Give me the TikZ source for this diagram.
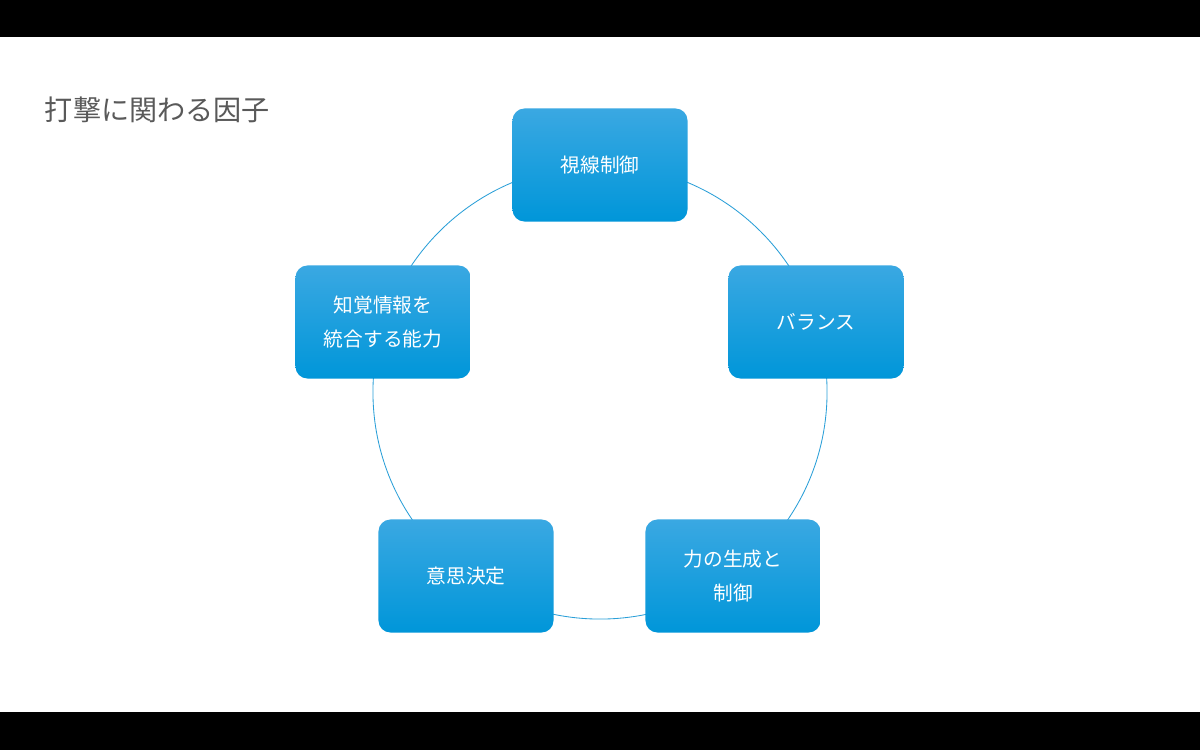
\documentclass[tikz,border=0pt]{standalone}
\usepackage{fontspec}
\newfontfamily\jpfont{Noto Sans CJK JP}
\definecolor{boxtop}{HTML}{3AA8E2}
\definecolor{boxbot}{HTML}{0096D9}
\definecolor{ringcol}{HTML}{2A9FD8}
\definecolor{titlecol}{HTML}{595959}
\tikzset{
  factor/.style={rounded corners=0.3cm, minimum width=4.375cm, minimum height=2.825cm,
    top color=boxtop, bottom color=boxbot, text=white, align=center,
    font=\jpfont\fontsize{14}{24}\selectfont}
}
\begin{document}
\begin{tikzpicture}[x=0.025cm, y=-0.025cm]
    \fill[black] (0,0) rectangle (1200,750);
    \fill[white] (0,37) rectangle (1200,712);
    \useasboundingbox (0,0) rectangle (1200,750);
    \node[anchor=west, text=titlecol, font=\jpfont\fontsize{20}{24}\selectfont] (title) at (40,110) {打撃に関わる因子};
    \coordinate (c) at (600,392);
    \draw[ringcol, line width=0.6pt] (c) circle (5.675cm);
    \node[factor] (gaze) at (600,165) {視線制御};
    \node[factor] (bal) at (816,322) {バランス};
    \node[factor] (force) at (733,576) {力の生成と\\制御};
    \node[factor] (dec) at (466,576) {意思決定};
    \node[factor] (perc) at (383,322) {知覚情報を\\統合する能力};
\end{tikzpicture}
\end{document}
